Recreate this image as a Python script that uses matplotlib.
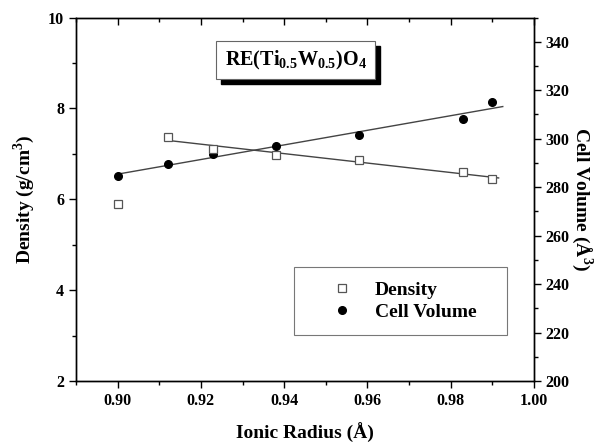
import numpy as np
import matplotlib.pyplot as plt
from matplotlib.ticker import MultipleLocator
from matplotlib.patches import Rectangle

plt.rcParams['font.family'] = ['Liberation Serif', 'DejaVu Serif']
plt.rcParams['font.weight'] = 'bold'
plt.rcParams['mathtext.fontset'] = 'custom'
plt.rcParams['mathtext.rm'] = 'Liberation Serif:bold'
plt.rcParams['mathtext.bf'] = 'Liberation Serif:bold'

# ionic radius (A)
radius = [0.900, 0.912, 0.923, 0.938, 0.958, 0.983, 0.990]
# density (g/cm3)
density = [5.89, 7.38, 7.10, 6.97, 6.86, 6.60, 6.45]
# cell volume (A^3)
volume = [284.6, 289.4, 293.5, 297.0, 301.7, 308.0, 315.0]

fig = plt.figure(figsize=(6.11, 4.46), dpi=100)
ax = fig.add_axes([76/611, 1-381/446, 458/611, 363.5/446])
ax2 = ax.twinx()

# linear fits (density fit leaves out the first point)
pd_fit = np.polyfit(radius[1:], density[1:], 1)
xd = np.array([radius[1], 0.9915])
ax.plot(xd, np.polyval(pd_fit, xd), color='#444444', lw=1.0)
pv_fit = np.polyfit(radius, volume, 1)
xv = np.array([radius[0], 0.9925])
ax2.plot(xv, np.polyval(pv_fit, xv), color='#444444', lw=1.0)

d_pts, = ax.plot(radius, density, 's', mfc='white', mec='#555555', ms=5.5, mew=0.9,
                 label='Density')
v_pts, = ax2.plot(radius, volume, 'o', color='black', ms=5.5, label='Cell Volume')

ax.set_xlim(0.89, 1.00)
ax.set_ylim(2, 10)
ax2.set_ylim(200, 350)
ax.xaxis.set_minor_locator(MultipleLocator(0.01))
ax.yaxis.set_major_locator(MultipleLocator(2))
ax.yaxis.set_minor_locator(MultipleLocator(1))
ax2.yaxis.set_minor_locator(MultipleLocator(10))
ax.set_xticks([0.90, 0.92, 0.94, 0.96, 0.98, 1.00])
ax.set_xticklabels(['0.90', '0.92', '0.94', '0.96', '0.98', '1.00'])
ax2.set_yticks([200, 220, 240, 260, 280, 300, 320, 340])

ax.tick_params(which='both', direction='out', labelsize=11.5, width=1)
ax.tick_params(which='major', length=5)
ax.tick_params(which='minor', length=3)
ax2.tick_params(which='both', direction='out', labelsize=11.5, width=1)
ax2.tick_params(which='major', length=5)
ax2.tick_params(which='minor', length=3)
ax.xaxis.set_tick_params(which='both', top=True)
for t in ax.xaxis.get_major_ticks() + ax.xaxis.get_minor_ticks():
    t.tick2line.set_marker(3)
for lbl in ax.get_xticklabels() + ax.get_yticklabels() + ax2.get_yticklabels():
    lbl.set_fontweight('bold')
for a in (ax, ax2):
    for s in a.spines.values():
        s.set_linewidth(1.0)

ax.set_xlabel('Ionic Radius (Å)', fontsize=14, fontweight='bold', labelpad=10)
ax.set_ylabel('Density (g/cm$^3$)', fontsize=14, fontweight='bold', labelpad=8)
ax2.set_ylabel('Cell Volume (Å$^3$)', fontsize=14, fontweight='bold',
               rotation=270, labelpad=18)

# title box with drop shadow
bx, by, bw, bh = 216/611, 1-79/446, 159/611, 38/446
fig.patches.append(Rectangle((bx + 5/611, by - 5/446), bw, bh, transform=fig.transFigure,
                             facecolor='black', edgecolor='black', zorder=5))
fig.patches.append(Rectangle((bx, by), bw, bh, transform=fig.transFigure,
                             facecolor='white', edgecolor='#666666', lw=0.8, zorder=6))
fig.text(bx + bw/2, by + bh/2, 'RE(Ti$_{0.5}$W$_{0.5}$)O$_4$', ha='center', va='center',
         fontsize=14.5, fontweight='bold', zorder=7)

# legend box
lx0, lx1, ly0, ly1 = 294, 507, 267, 335
ax.add_patch(Rectangle(((lx0-76)/458, 1-(ly1-17.5)/363.5), (lx1-lx0)/458, (ly1-ly0)/363.5,
                       transform=ax.transAxes, facecolor='white', edgecolor='#777777',
                       lw=0.8, zorder=8))
leg = ax.legend([d_pts, v_pts], ['Density', 'Cell Volume'], loc='center left',
                bbox_to_anchor=((326-76)/458, 1-(301-17.5)/363.5),
                fontsize=14, frameon=False, handletextpad=0.9,
                borderpad=0, borderaxespad=0, labelspacing=0.25, handlelength=1.6)
leg.set_zorder(9)
for t in leg.get_texts():
    t.set_fontweight('bold')
ax.set_zorder(ax2.get_zorder() + 1)
ax.patch.set_visible(False)

fig.savefig('out.png', dpi=100)
